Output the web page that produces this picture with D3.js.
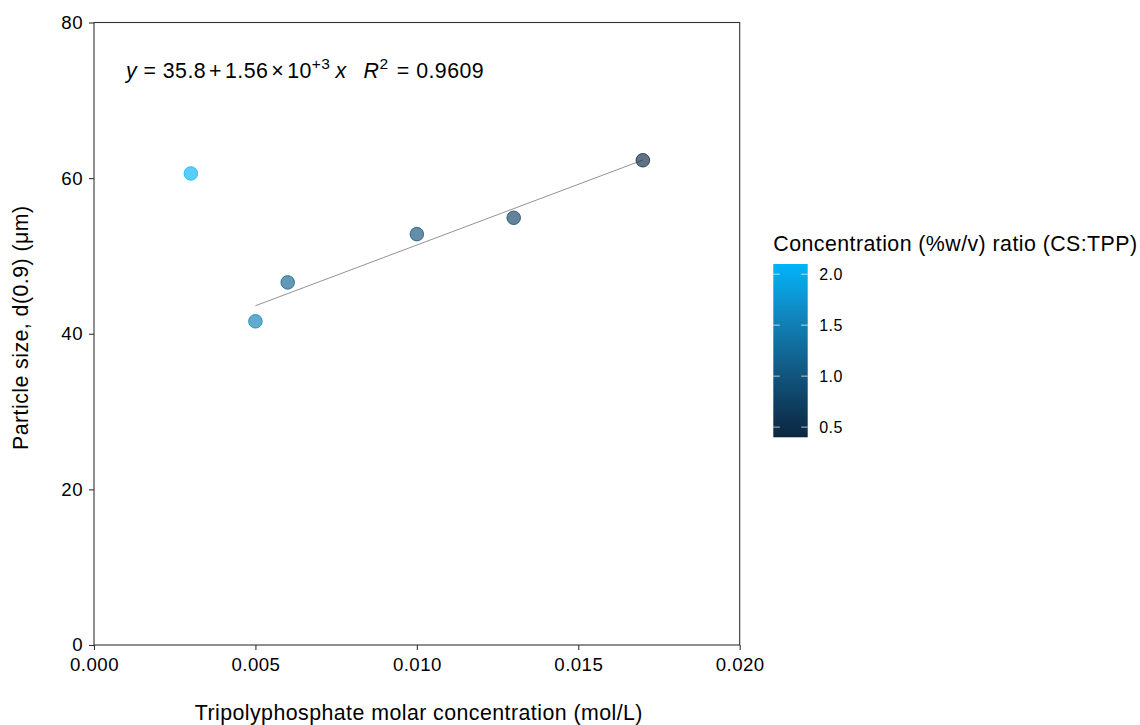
<!DOCTYPE html>
<html>
<head>
<meta charset="utf-8">
<script src="https://cdn.jsdelivr.net/npm/d3@7"></script>
<style>
  html, body { margin: 0; padding: 0; background: #fff; }
  svg { display: block; font-family: "Liberation Sans", Arial, sans-serif; }
  text { letter-spacing: 0.45px; }
</style>
</head>
<body>
<svg id="chart" width="1140" height="725"></svg>
<script>
// TPP molar concentration (mol/L), particle size d(0.9) (µm), CS:TPP concentration ratio
const molarConc    = [0.003, 0.005, 0.006, 0.010, 0.013, 0.017];
const particleSize = [60.6, 41.6, 46.6, 52.8, 54.9, 62.3];
const csTppRatio   = [2.10, 1.50, 1.17, 0.96, 0.75, 0.40];

// Linear fit reported on the chart (fitted over the 0.005–0.017 mol/L points)
const fitIntercept = 35.8;
const fitSlope = 1560;
const fitR2 = "0.9609";

const xTicks = [0, 0.005, 0.010, 0.015, 0.020];
const yTicks = [0, 20, 40, 60, 80];
const legendTicks = [0.5, 1.0, 1.5, 2.0];

const points = molarConc.map((x, i) => ({ x, y: particleSize[i], c: csTppRatio[i] }));

const svg = d3.select("#chart");
const plotLeft = 94, plotRight = 739.7, plotTop = 22.5, plotBottom = 645;

const x = d3.scaleLinear().domain([0, 0.02]).range([plotLeft, plotRight]);
const y = d3.scaleLinear().domain([0, 80]).range([plotBottom, plotTop]);
const color = d3.scaleLinear()
  .domain(d3.extent(csTppRatio))
  .range(["#0B2740", "#00B4FA"])
  .interpolate(d3.interpolateLab);

const axisColor = "#333333";
const tickFont = 18.67;
const titleFont = 21.33;

// Panel border
svg.append("rect")
  .attr("x", plotLeft).attr("y", plotTop)
  .attr("width", plotRight - plotLeft).attr("height", plotBottom - plotTop)
  .attr("fill", "none").attr("stroke", axisColor).attr("stroke-width", 1.1);

// Axes
const xAxis = svg.append("g").attr("transform", `translate(0,${plotBottom})`)
  .call(d3.axisBottom(x).tickValues(xTicks).tickFormat(d3.format(".3f")).tickSize(5).tickPadding(8));
const yAxis = svg.append("g").attr("transform", `translate(${plotLeft},0)`)
  .call(d3.axisLeft(y).tickValues(yTicks).tickFormat(d3.format("d")).tickSize(5).tickPadding(6));
[xAxis, yAxis].forEach(g => {
  g.select(".domain").remove();
  g.selectAll(".tick line").attr("stroke", axisColor).attr("stroke-width", 1.1);
  g.selectAll(".tick text").attr("fill", "#000").attr("font-size", tickFont)
    .attr("font-family", "Liberation Sans, Arial, sans-serif");
});

// Axis titles
svg.append("text")
  .attr("x", (plotLeft + plotRight) / 2 + 2).attr("y", 720)
  .attr("text-anchor", "middle").attr("font-size", titleFont).attr("fill", "#000")
  .text("Tripolyphosphate molar concentration (mol/L)");
svg.append("text")
  .attr("transform", `translate(27.5,${(plotTop + plotBottom) / 2 - 6}) rotate(-90)`)
  .attr("text-anchor", "middle").attr("font-size", titleFont).attr("fill", "#000")
  .text("Particle size, d(0.9) (μm)");

// Regression line over the fitted range
const fitted = points.filter(p => p.x >= 0.005);
const fitExtent = d3.extent(fitted, p => p.x);
svg.append("path")
  .datum(fitExtent.map(v => ({ x: v, y: fitIntercept + fitSlope * v })))
  .attr("d", d3.line().x(d => x(d.x)).y(d => y(d.y)))
  .attr("fill", "none").attr("stroke", "#4a4a4a").attr("stroke-width", 0.6);

// Points
svg.append("g").selectAll("circle")
  .data(points).join("circle")
  .attr("cx", d => x(d.x)).attr("cy", d => y(d.y)).attr("r", 6.8)
  .attr("fill", d => color(d.c)).attr("fill-opacity", 0.65)
  .attr("stroke", d => color(d.c)).attr("stroke-opacity", 0.75).attr("stroke-width", 1);

// Equation label
const eq = svg.append("text").attr("x", 126).attr("y", 77.5).attr("font-size", 21.33).attr("fill", "#000");
eq.append("tspan").attr("font-style", "italic").text("y");
eq.append("tspan").text(" = 35.8");
eq.append("tspan").attr("dx", 3).text("+");
eq.append("tspan").attr("dx", 3).text("1.56");
eq.append("tspan").attr("dx", 3).text("×");
eq.append("tspan").attr("dx", 3).text("10");
eq.append("tspan").attr("dy", -9).attr("font-size", 15.5).text("+3");
eq.append("tspan").attr("dy", 9).attr("dx", 5).attr("font-style", "italic").text("x");
eq.append("tspan").attr("dx", 17).attr("font-style", "italic").text("R");
eq.append("tspan").attr("dy", -9).attr("font-size", 15.5).text("2");
eq.append("tspan").attr("dy", 9).attr("dx", 2).text(" = " + fitR2);

// Colour bar legend
const legX = 773.3, legW = 34.4, legTop = 264, legBottom = 437.3;
const legScale = d3.scaleLinear().domain(color.domain()).range([legBottom, legTop]);
const defs = svg.append("defs");
const grad = defs.append("linearGradient").attr("id", "ratioGrad")
  .attr("x1", 0).attr("y1", 1).attr("x2", 0).attr("y2", 0);
d3.range(0, 1.0001, 0.05).forEach(t => {
  const v = color.domain()[0] + t * (color.domain()[1] - color.domain()[0]);
  grad.append("stop").attr("offset", t).attr("stop-color", color(v));
});
svg.append("text")
  .attr("x", legX).attr("y", 251).attr("font-size", titleFont).attr("fill", "#000")
  .text("Concentration (%w/v) ratio (CS:TPP)");
svg.append("rect")
  .attr("x", legX).attr("y", legTop).attr("width", legW).attr("height", legBottom - legTop)
  .attr("fill", "url(#ratioGrad)");
const legG = svg.append("g");
legendTicks.forEach(v => {
  const ty = legScale(v);
  legG.append("line").attr("x1", legX).attr("x2", legX + 6.5).attr("y1", ty).attr("y2", ty)
    .attr("stroke", "#fff").attr("stroke-opacity", 0.7).attr("stroke-width", 1);
  legG.append("line").attr("x1", legX + legW - 6.5).attr("x2", legX + legW).attr("y1", ty).attr("y2", ty)
    .attr("stroke", "#fff").attr("stroke-opacity", 0.7).attr("stroke-width", 1);
  legG.append("text").attr("x", legX + legW + 11.5).attr("y", ty + 6)
    .attr("font-size", 16).attr("fill", "#000").text(d3.format(".1f")(v));
});
</script>
</body>
</html>
